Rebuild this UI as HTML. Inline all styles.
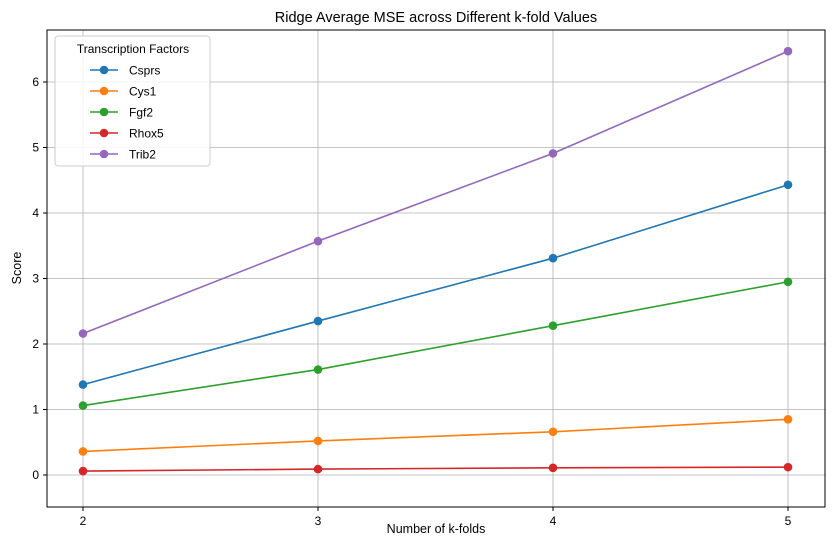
<!DOCTYPE html>
<html><head><meta charset="utf-8"><style>
body{margin:0;background:#fff;}
svg{font-family:"Liberation Sans","DejaVu Sans",sans-serif;}
</style></head><body>
<svg id="chart" width="833" height="545" viewBox="0 0 833 545" xmlns="http://www.w3.org/2000/svg">
<rect width="833" height="545" fill="#fff"/>
<text x="436" y="22" font-size="14.5" text-anchor="middle" fill="#000">Ridge Average MSE across Different k-fold Values</text>
<g id="grid"></g>
<g id="series"></g>
<rect x="47" y="30" width="778" height="477" fill="none" stroke="#000" stroke-width="1"/>
<g id="axes"></g>
<text x="436" y="533" font-size="12.5" text-anchor="middle">Number of k-folds</text>
<text x="21" y="268" font-size="12.5" text-anchor="middle" transform="rotate(-90 21 268)">Score</text>
<g id="legend"></g>
</svg>
<script>
const categories = [2, 3, 4, 5];
const seriesNames = ["Csprs", "Cys1", "Fgf2", "Rhox5", "Trib2"];
const csprs = [1.38, 2.35, 3.31, 4.43];
const cys1 = [0.36, 0.52, 0.66, 0.85];
const fgf2 = [1.06, 1.61, 2.28, 2.95];
const rhox5 = [0.06, 0.09, 0.11, 0.12];
const trib2 = [2.16, 3.57, 4.91, 6.47];
const yTicks = [0, 1, 2, 3, 4, 5, 6];
const colors = ["#1f77b4", "#ff7f0e", "#2ca02c", "#d62728", "#9467bd"];
const allSeries = [csprs, cys1, fgf2, rhox5, trib2];

const NS = "http://www.w3.org/2000/svg";
function xS(v){ return 83 + (v - 2) * 235; }
function yS(v){ return 475 - v * 65.5; }
function mk(tag, attrs, parent, text){
  const e = document.createElementNS(NS, tag);
  for (const k in attrs) e.setAttribute(k, attrs[k]);
  if (text !== undefined) e.textContent = text;
  parent.appendChild(e); return e;
}
const grid = document.getElementById('grid');
const axes = document.getElementById('axes');
categories.forEach(c => {
  const x = xS(c);
  const g = mk('line', {x1:x, x2:x, y1:30, y2:507, stroke:'#b0b0b0', 'stroke-width':0.8}, grid);
  
  
  mk('line', {x1:x, x2:x, y1:507, y2:511, stroke:'#000'}, axes);
  const t = mk('text', {x:x, y:525, 'font-size':12, 'text-anchor':'middle'}, axes, String(c));
  
  
});
yTicks.forEach(v => {
  const y = yS(v);
  const g = mk('line', {x1:47, x2:825, y1:y, y2:y, stroke:'#b0b0b0', 'stroke-width':0.8}, grid);
  
  
  mk('line', {x1:43, x2:47, y1:y, y2:y, stroke:'#000'}, axes);
  const t = mk('text', {x:39, y:y + 4, 'font-size':12, 'text-anchor':'end'}, axes, String(v));
  
  
});
const sg = document.getElementById('series');
allSeries.forEach((vals, i) => {
  const pts = vals.map((v, j) => xS(categories[j]) + ',' + yS(v)).join(' ');
  const pl = mk('polyline', {points:pts, fill:'none', stroke:colors[i], 'stroke-width':1.6}, sg);
  
  
  vals.forEach((v, j) => {
    const c = mk('circle', {cx:xS(categories[j]), cy:yS(v), r:4.3, fill:colors[i]}, sg);
    
    
  });
});
const lg = document.getElementById('legend');
const box = mk('rect', {x:55, y:36, width:155, height:130, rx:3, fill:'#fff', 'fill-opacity':0.85, stroke:'#ccc'}, lg);


const lt = mk('text', {x:133, y:53, 'font-size':12, 'text-anchor':'middle'}, lg, 'Transcription Factors');


seriesNames.forEach((n, i) => {
  const y = 70 + i * 21;
  mk('line', {x1:90, x2:118, y1:y, y2:y, stroke:colors[i], 'stroke-width':1.6}, lg);
  mk('circle', {cx:104, cy:y, r:4.3, fill:colors[i]}, lg);
  const t = mk('text', {x:129, y:y + 4.5, 'font-size':12}, lg, n);
  
  
});
</script>
</body></html>
